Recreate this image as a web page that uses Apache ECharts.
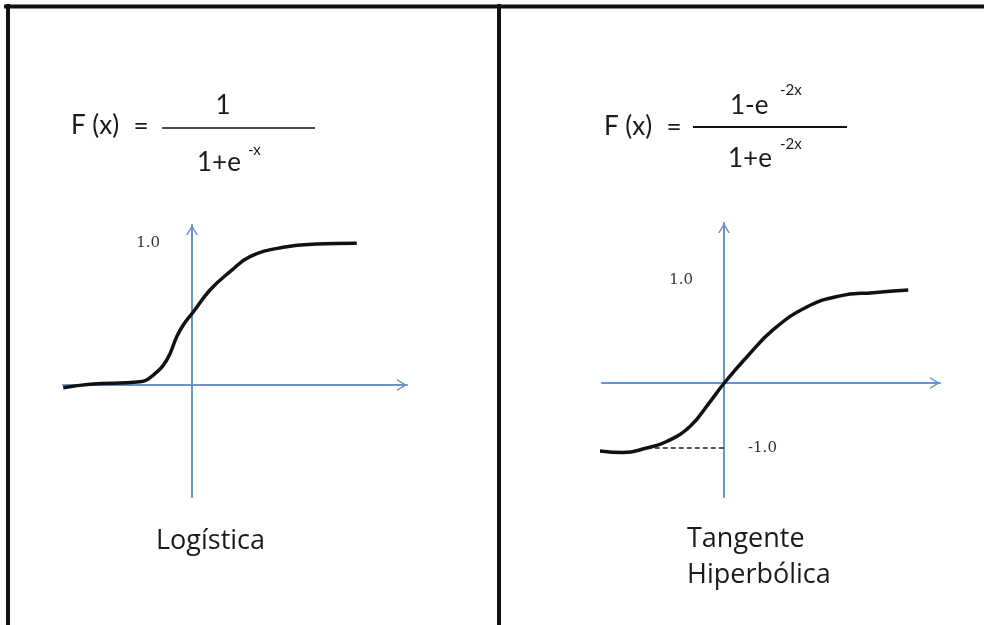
<!DOCTYPE html>
<html>
<head>
<meta charset="utf-8">
<script src="https://cdn.jsdelivr.net/npm/echarts@6/dist/echarts.min.js"></script>
<style>
  html, body { margin: 0; padding: 0; background: #fff; }
  #main { width: 984px; height: 625px; }
</style>
</head>
<body>
<div id="main"></div>
<script>
// curva logística dibujada a mano
const logisticX = [-5.15, -4.08, -2.08, -1.55, -1.01, -0.61, -0.35, 0.01, 0.72, 1.52, 2.32, 3.65, 4.99, 6.59]
const logisticY = [-0.02, 0.005, 0.023, 0.07, 0.176, 0.34, 0.423, 0.505, 0.669, 0.798, 0.904, 0.97, 0.993, 0.998]
// tangente hiperbólica dibujada a mano
const tanhX = [-5.09, -4.03, -3.09, -2.29, -1.36, -0.56, 0.01, 0.91, 1.97, 3.31, 4.64, 5.97, 7.37]
const tanhY = [-1.04, -1.07, -1.0, -0.9, -0.67, -0.29, 0.0, 0.4, 0.82, 1.17, 1.34, 1.39, 1.43]
// línea punteada hasta -1.0
const dashX = [-3.09, 0]
const dashY = [-1, -1]
// etiquetas
const logisticTicks = ['1.0']
const tanhTicks = ['1.0', '-1.0']
const captions = ['Logística', 'Tangente', 'Hiperbólica']

const zip = (xs, ys) => xs.map((x, i) => [x, ys[i]])

const axisBlue = '#6793c8'
const arrow = 'path://M0,10 L6,0 L12,10 L10.4,10 L6,2.8 L1.6,10 Z'
const axisLine = {
  onZero: true,
  symbol: ['none', arrow],
  symbolSize: [12, 10],
  symbolOffset: [0, -5],
  lineStyle: { color: axisBlue, width: 2 }
}
const hidden = { show: false }
const tickFont = { fontFamily: 'DejaVu Serif', fontSize: 15, color: '#333' }

function xAxis(grid, min, max) {
  return {
    type: 'value', gridIndex: grid, min, max,
    axisLine, axisTick: hidden, axisLabel: hidden, splitLine: hidden
  }
}
function yAxis(grid, min, max, at, labels, margin) {
  return {
    type: 'value', gridIndex: grid, min, max,
    axisLine, axisTick: hidden, splitLine: hidden,
    axisLabel: {
      customValues: at,
      formatter: (v) => labels[at.indexOf(v)],
      margin,
      ...tickFont
    }
  }
}

const curve = { color: '#111', width: 3.5 }
const formulaFont = '26px Lato'
const supFont = '15px Lato'

function txt(x, y, text, font, align) {
  return {
    type: 'text', x, y, z: 10,
    style: { text, font, fill: '#1a1a1a', textAlign: align || 'left', textVerticalAlign: 'middle' }
  }
}
function bar(x1, x2, y, w) {
  return { type: 'line', shape: { x1, y1: y, x2, y2: y }, style: { stroke: '#111', lineWidth: w } }
}

const option = {
  animation: false,
  backgroundColor: '#fff',
  grid: [
    { left: 63, top: 225, width: 344, height: 272 },
    { left: 602, top: 223, width: 338, height: 274 }
  ],
  xAxis: [xAxis(0, -5.16, 8.6), xAxis(1, -4.88, 8.64)],
  yAxis: [
    yAxis(0, -0.7887, 1.1268, [1], logisticTicks, -97),
    yAxis(1, -1.7538, 2.4615, [1.58], tanhTicks, -91)
  ],
  series: [
    {
      type: 'line', xAxisIndex: 0, yAxisIndex: 0, clip: false,
      data: zip(logisticX, logisticY), smooth: 0.45, showSymbol: false,
      lineStyle: curve
    },
    {
      type: 'line', xAxisIndex: 1, yAxisIndex: 1, clip: false, z: 1,
      data: zip(dashX, dashY), showSymbol: false,
      lineStyle: { color: '#222', width: 1.5, type: [5, 3] },
      endLabel: { show: true, formatter: tanhTicks[1], distance: 24, ...tickFont }
    },
    {
      type: 'line', xAxisIndex: 1, yAxisIndex: 1, clip: false, z: 3,
      data: zip(tanhX, tanhY), smooth: 0.45, showSymbol: false,
      lineStyle: curve
    }
  ],
  graphic: [
    // marco
    bar(4, 984, 6.5, 4),
    { type: 'line', shape: { x1: 8, y1: 4, x2: 8, y2: 625 }, style: { stroke: '#111', lineWidth: 4 } },
    { type: 'line', shape: { x1: 499, y1: 4, x2: 499, y2: 625 }, style: { stroke: '#111', lineWidth: 4 } },
    // fórmula logística
    txt(71, 126, 'F (x)', formulaFont),
    txt(141, 127, '=', formulaFont, 'center'),
    bar(162, 315, 128, 1.5),
    txt(223, 106, '1', formulaFont, 'center'),
    txt(197, 163, '1+e', formulaFont),
    txt(248, 150, '-x', supFont),
    // fórmula tangente
    txt(604, 127, 'F (x)', formulaFont),
    txt(674, 128, '=', formulaFont, 'center'),
    bar(693, 847, 127, 2),
    txt(730, 106, '1-e', formulaFont),
    txt(780, 90, '-2x', supFont),
    txt(728, 159, '1+e', formulaFont),
    txt(780, 144, '-2x', supFont),
    // títulos
    txt(156, 541, captions[0], '27px "Open Sans"'),
    txt(687, 539, captions[1], '27px "Open Sans"'),
    txt(687, 575, captions[2], '27px "Open Sans"')
  ]
}

const chart = echarts.init(document.getElementById('main'))
chart.setOption(option)
</script>
</body>
</html>
